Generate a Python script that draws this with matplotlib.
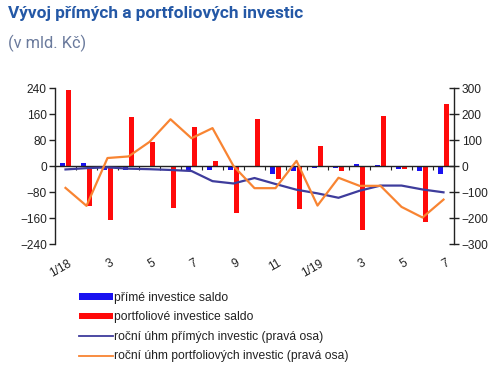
import matplotlib.pyplot as plt
import matplotlib.transforms as mtransforms
from matplotlib.patches import Patch
from matplotlib.lines import Line2D
import numpy as np

# měsíce 1/18 .. 7/19
month_labels = ["1/18", "3", "5", "7", "9", "11", "1/19", "3", "5", "7"]

# saldo (mld. Kč, levá osa)
prime_saldo = [10, 10, -12, -13, -3, -3, -16, -13, -13, -2,
               -24, -16, -5, -5, 7, 3, -8, -15, -24]
portfolio_saldo = [235, -122, -165, 150, 75, -129, 121, 15, -143, 146,
                   -39, -133, 61, -15, -196, 153, -8, -173, 192]

# roční úhrny (pravá osa)
prime_annual = [-13, -8, -5, -10, -12, -15, -19, -58, -67, -46,
                -69, -91, -105, -122, -95, -75, -75, -90, -101]
portfolio_annual = [-84, -153, 31, 37, 93, 180, 107, 146, 0, -85,
                    -85, 20, -152, -45, -76, -76, -157, -198, -129]

BLUE = "#1A12F0"
RED = "#FF0A0A"
NAVY = "#3E3C9C"
ORANGE = "#F88432"

plt.rcParams['font.family'] = ['Liberation Sans', 'DejaVu Sans']

fig = plt.figure(figsize=(5.0, 3.67), dpi=100)
ax = fig.add_axes([0.11, 0.335, 0.798, 0.425])
ax2 = ax.twinx()

x = np.arange(len(prime_saldo))
w = 0.27
ax.bar(x - 0.14, prime_saldo, width=w, color=BLUE, zorder=2)
ax.bar(x + 0.15, portfolio_saldo, width=w, color=RED, zorder=2)

ax2.plot(x, prime_annual, color=NAVY, linewidth=1.6)
ax2.plot(x, portfolio_annual, color=ORANGE, linewidth=1.6)

ax.set_xlim(-0.5, len(x) - 0.5)
ax.set_ylim(-240, 240)
ax.set_yticks(np.arange(-240, 241, 80))
ax2.set_ylim(-300, 300)
ax2.set_yticks(np.arange(-300, 301, 100))

# osa x na nule, značky na hranicích měsíců
ax.spines['bottom'].set_position(('data', 0))
ax.spines['top'].set_visible(False)
ax.spines['right'].set_visible(False)
for s in ['top', 'left', 'bottom']:
    ax2.spines[s].set_visible(False)
for sp in [ax.spines['left'], ax.spines['bottom'], ax2.spines['right']]:
    sp.set_color('#222222')
    sp.set_linewidth(1.0)

ax.set_xticks(np.arange(-0.5, len(x), 1.0))
ax.set_xticklabels([])
ax.tick_params(axis='x', direction='out', length=3, width=0.8, colors='#222222')
ax.tick_params(axis='y', direction='out', length=4, width=1.0, labelsize=8.6,
               colors='#222222', pad=2)
ax2.tick_params(axis='y', direction='inout', length=7, width=1.0, labelsize=8.6,
                colors='#222222', pad=2)

trans = mtransforms.blended_transform_factory(ax.transData, ax.transAxes)
for i, lab in zip(range(0, len(x), 2), month_labels):
    ax.text(i + 0.1, -0.085, lab, transform=trans, rotation=30,
            rotation_mode='anchor', ha='right', va='top', fontsize=8.6,
            color='#222222')

fig.text(0.016, 0.962, "Vývoj přímých a portfoliových investic",
         family=['Roboto', 'DejaVu Sans'], fontweight='bold', fontsize=12.4,
         color='#2458A6', va='center', ha='left')
fig.text(0.016, 0.882, "(v mld. Kč)", family=['Roboto', 'DejaVu Sans'],
         fontsize=11.8, color='#6A7A9C', va='center', ha='left')

handles = [
    Patch(facecolor=BLUE, edgecolor='none'),
    Patch(facecolor=RED, edgecolor='none'),
    Line2D([], [], color=NAVY, linewidth=1.3),
    Line2D([], [], color=ORANGE, linewidth=1.3),
]
labels = [
    "přímé investice saldo",
    "portfoliové investice saldo",
    "roční úhm přímých investic (pravá osa)",
    "roční úhm portfoliových investic (pravá osa)",
]
leg = fig.legend(handles, labels, loc='upper left', bbox_to_anchor=(0.149, 0.218),
                 frameon=False, fontsize=8.7, handlelength=2.75, handleheight=0.4,
                 handletextpad=0.1, labelspacing=0.62, borderaxespad=0)
for t in leg.get_texts():
    t.set_color('#222222')

fig.savefig("out.png", dpi=100)
